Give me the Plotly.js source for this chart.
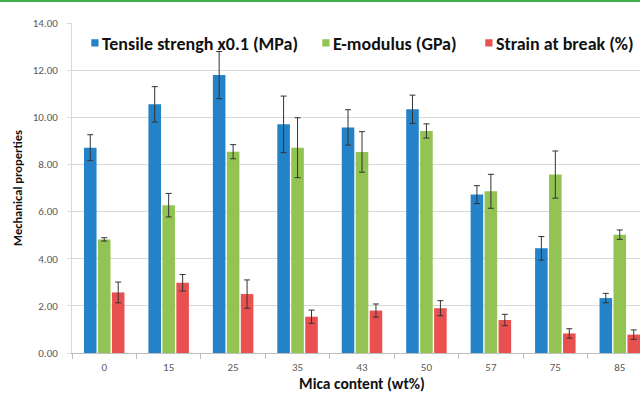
<!DOCTYPE html>
<html>
<head>
<meta charset="utf-8">
<script src="https://cdn.plot.ly/plotly-3.0.1.min.js"></script>
<style>
  html, body { margin: 0; padding: 0; background: #ffffff; overflow: hidden; }
  #wrap { position: relative; width: 640px; height: 397px; overflow: hidden; }
  #topline { position: absolute; left: 0; top: 0; width: 640px; height: 2px; background: #3fae49; z-index: 5; }
  #chart { width: 652px; height: 397px; }
  .legend .legendtext { transform: translateX(-13px); }
</style>
</head>
<body>
<div id="wrap">
  <div id="topline"></div>
  <div id="chart"></div>
</div>
<script>
// ---- data ----
const categories = ['0', '15', '25', '35', '43', '50', '57', '75', '85'];

const tensileName = 'Tensile strengh x0.1 (MPa)';
const tensile    = [8.71, 10.55, 11.79, 9.70, 9.57, 10.34, 6.72, 4.44, 2.33];
const tensileErr = [0.55, 0.75, 1.00, 1.20, 0.75, 0.60, 0.38, 0.50, 0.20];

const emodName = 'E-modulus (GPa)';
const emod    = [4.82, 6.27, 8.54, 8.71, 8.53, 9.42, 6.86, 7.57, 5.02];
const emodErr = [0.07, 0.50, 0.30, 1.27, 0.86, 0.30, 0.72, 1.00, 0.20];

const strainName = 'Strain at break (%)';
const strain    = [2.57, 2.98, 2.50, 1.54, 1.80, 1.90, 1.40, 0.83, 0.78];
const strainErr = [0.44, 0.35, 0.60, 0.28, 0.28, 0.32, 0.24, 0.20, 0.20];

const yTickVals = [0, 2, 4, 6, 8, 10, 12, 14];

const xTitle = 'Mica content (wt%)';
const yTitle = 'Mechanical properties';

// ---- styling ----
const FONT = 'Carlito, Lato, "Liberation Sans", sans-serif';
const colors = { blue: '#2382c8', green: '#92c353', red: '#e8514f' };
const legendWidths = [186, 118, 120];
const errStyle = { type: 'data', visible: true, color: '#333333', thickness: 1, width: 3 };

function barTrace(name, y, err, color, lw) {
  return {
    type: 'bar',
    name: name,
    x: categories,
    y: y,
    legendwidth: lw,
    marker: { color: color, line: { width: 0 } },
    error_y: Object.assign({ array: err }, errStyle),
    cliponaxis: true
  };
}

const data = [
  barTrace(tensileName, tensile, tensileErr, colors.blue, legendWidths[0]),
  barTrace(emodName, emod, emodErr, colors.green, legendWidths[1]),
  barTrace(strainName, strain, strainErr, colors.red, legendWidths[2])
];

const layout = {
  width: 652,
  height: 397,
  margin: { l: 72, r: 0, t: 23, b: 44, pad: 0, autoexpand: false },
  paper_bgcolor: '#ffffff',
  plot_bgcolor: '#ffffff',
  font: { family: FONT, size: 11, color: '#595959' },
  barmode: 'group',
  bargap: 0.35,
  bargroupgap: 0.1,
  showlegend: true,
  legend: {
    orientation: 'h',
    x: 0.005,
    xanchor: 'left',
    y: 0.939,
    yanchor: 'middle',
    bgcolor: 'rgba(255,255,255,0)',
    borderwidth: 0,
    font: { family: FONT, size: 18, color: '#111111', weight: 'bold' },
    traceorder: 'normal'
  },
  xaxis: {
    type: 'category',
    range: [-0.5, 8.5],
    tickson: 'boundaries',
    ticks: 'outside',
    ticklen: 5,
    tickcolor: '#bfbfbf',
    ticklabelstandoff: 4,
    showline: true,
    linecolor: '#bfbfbf',
    linewidth: 1,
    showgrid: false,
    zeroline: false,
    tickfont: { family: FONT, size: 11, color: '#595959' },
    title: { text: xTitle, font: { family: FONT, size: 15.5, color: '#111111', weight: 'bold' }, standoff: 3 }
  },
  yaxis: {
    range: [0, 14],
    tickvals: yTickVals,
    tickformat: '.2f',
    ticks: 'outside',
    ticklen: 4,
    tickcolor: '#d9d9d9',
    ticklabelstandoff: 7,
    showline: true,
    linecolor: '#d9d9d9',
    showgrid: true,
    gridcolor: '#d9d9d9',
    gridwidth: 1,
    zeroline: false,
    tickfont: { family: FONT, size: 11, color: '#595959' },
    title: { text: yTitle, font: { family: FONT, size: 12.5, color: '#111111', weight: 'bold' }, standoff: 7 }
  }
};

Plotly.newPlot('chart', data, layout, { displayModeBar: false, staticPlot: true }).then(function (gd) {
  // smaller square legend keys, as in the reference
  gd.querySelectorAll('.legend .legendpoints path').forEach(function (p) {
    p.setAttribute('transform', 'translate(20,0) scale(0.6)');
  });
});
</script>
</body>
</html>
